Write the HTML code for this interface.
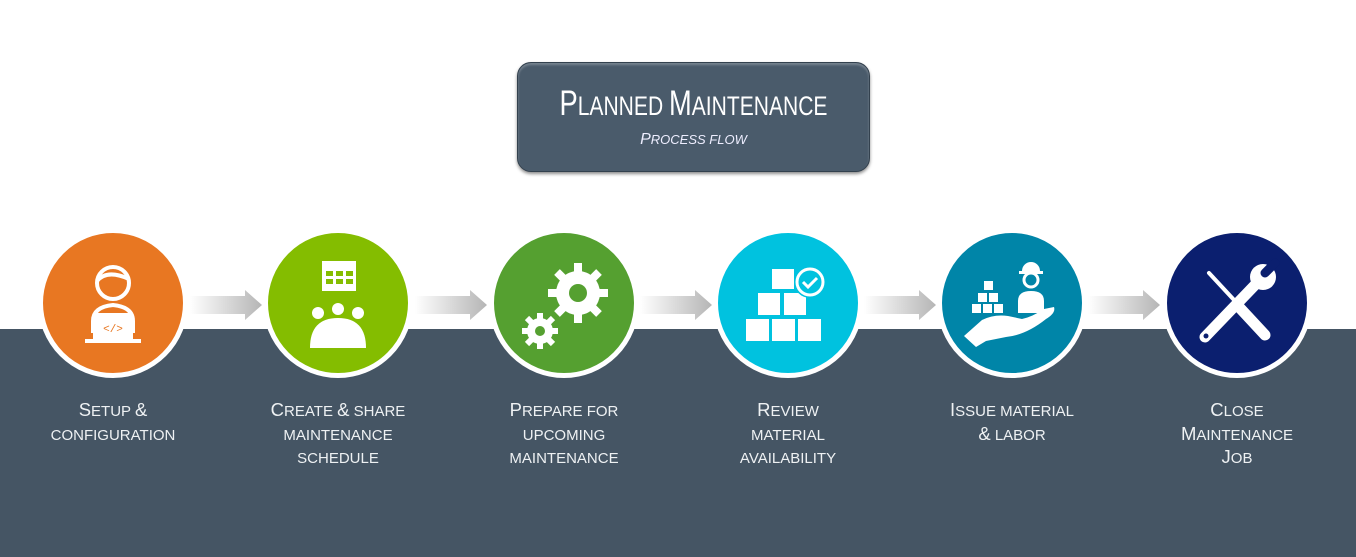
<!DOCTYPE html>
<html><head><meta charset="utf-8"><style>
body{margin:0;width:1356px;height:557px;position:relative;background:#fff;overflow:hidden;font-family:"Liberation Sans",sans-serif}
.band{position:absolute;left:0;top:329px;width:1356px;height:228px;background:#455564}
.title{position:absolute;left:517px;top:62px;width:353px;height:110px;background:#4a5b6b;border-radius:14px;border:1px solid #33414e;box-shadow:0 2px 3px rgba(0,0,0,.45), inset 0 2px 2px rgba(255,255,255,.25);box-sizing:border-box;color:#fff;text-align:center}
.title .t{font-family:"Liberation Sans Narrow","Liberation Sans",sans-serif;text-transform:uppercase;font-size:27px;margin-top:21px;white-space:nowrap;transform:scaleX(.78)}
.title .t b{font-weight:normal;font-size:35px}
.title .s{font-style:italic;text-transform:uppercase;font-size:13px;margin-top:7px;color:#eef}
.title .s b{font-weight:normal;font-size:16px}
.c{position:absolute;width:140px;height:140px;border-radius:50%;border:5px solid #fff;top:228px}
.c svg{position:absolute;left:0;top:0}
.lab{position:absolute;top:400px;width:200px;text-align:center;color:#eef1f3;text-transform:uppercase;font-size:15px;line-height:23.5px}
.lab b{font-weight:normal;font-size:18.5px;line-height:1}
.arr{position:absolute;top:290px}
</style></head><body>
<div class="band"></div>
<div class="title"><div class="t"><b>P</b>lanned <b>M</b>aintenance</div><div class="s"><b>P</b>rocess flow</div></div>

<svg class="arr" style="left:0" width="1356" height="30">
<defs><linearGradient id="g" x1="0" x2="1"><stop offset="0" stop-color="#fff"/><stop offset="1" stop-color="#b5b5b5"/></linearGradient></defs>
<g fill="url(#g)">
<path d="M190 6H245V0L262 15L245 30V24H190Z"/>
<path d="M415 6H470V0L487 15L470 30V24H415Z"/>
<path d="M640 6H695V0L712 15L695 30V24H640Z"/>
<path d="M864 6H919V0L936 15L919 30V24H864Z"/>
<path d="M1088 6H1143V0L1160 15L1143 30V24H1088Z"/>
</g></svg>

<div class="c" style="left:38px;background:#e87722"><svg width="140" height="140" fill="none" stroke="#fff" stroke-width="4">
<circle cx="70" cy="50" r="16"/><path d="M54 48q10-12 32-2"/><path d="M50 100v-12q0-14 20-16q20 2 20 16v12"/><rect x="50" y="80" width="40" height="26" fill="#fff" stroke="none"/><path d="M42 108h56" /><text x="70" y="99" fill="#e87722" stroke="none" font-size="11" text-anchor="middle" font-family="Liberation Mono">&lt;/&gt;</text></svg></div>
<div class="c" style="left:263px;background:#84bd00"><svg width="140" height="140" fill="#fff">
<rect x="54" y="28" width="34" height="30"/><g fill="#84bd00"><rect x="58" y="38" width="7" height="5"/><rect x="68" y="38" width="7" height="5"/><rect x="78" y="38" width="7" height="5"/><rect x="58" y="46" width="7" height="5"/><rect x="68" y="46" width="7" height="5"/><rect x="78" y="46" width="7" height="5"/></g>
<circle cx="50" cy="80" r="6"/><circle cx="70" cy="76" r="6"/><circle cx="90" cy="80" r="6"/><path d="M42 115q0-30 28-30q28 0 28 30z"/></svg></div>
<div class="c" style="left:489px;background:#55a030"><svg width="140" height="140" fill="#fff">
<circle cx="84" cy="60" r="22"/><g stroke="#fff" stroke-width="8"><path d="M84 30v60M54 60h60M63 39l42 42M105 39l-42 42"/></g><circle cx="84" cy="60" r="9" fill="#55a030"/>
<circle cx="46" cy="98" r="13"/><g stroke="#fff" stroke-width="6"><path d="M46 80v36M28 98h36M33 85l26 26M59 85l-26 26"/></g><circle cx="46" cy="98" r="5" fill="#55a030"/></svg></div>
<div class="c" style="left:713px;background:#00c2df"><svg width="140" height="140" fill="#fff">
<rect x="54" y="36" width="22" height="20"/><rect x="40" y="60" width="22" height="22"/><rect x="66" y="60" width="22" height="22"/><rect x="28" y="86" width="23" height="22"/><rect x="54" y="86" width="23" height="22"/><rect x="80" y="86" width="23" height="22"/>
<circle cx="92" cy="49" r="16" fill="#00c2df" /><circle cx="92" cy="49" r="13" fill="none" stroke="#fff" stroke-width="3"/><path d="M85 49l5 5l9-9" fill="none" stroke="#fff" stroke-width="3"/></svg></div>
<div class="c" style="left:937px;background:#0085a8"><svg width="140" height="140" fill="#fff">
<rect x="42" y="48" width="9" height="9"/><rect x="36" y="60" width="9" height="9"/><rect x="47" y="60" width="9" height="9"/><rect x="30" y="71" width="9" height="9"/><rect x="41" y="71" width="9" height="9"/><rect x="52" y="71" width="9" height="9"/>
<path d="M80 38a9 9 0 0 1 18 0h3v3h-24v-3z"/><circle cx="89" cy="47" r="7" fill="none" stroke="#fff" stroke-width="3"/><path d="M76 80v-12q0-10 13-10q13 0 13 10v12z"/>
<path d="M22 103l18-16q12-6 26-4l14 3q10-2 22-10l10-2q2 6-8 12q-20 16-40 18l-20 4l-10 6z"/></svg></div>
<div class="c" style="left:1162px;background:#0b1f6f"><svg width="140" height="140" stroke="#fff" stroke-linecap="round">
<path d="M42 40l26 28" stroke-width="4"/><path d="M72 74l26 28" stroke-width="11"/>
<path d="M38 104l50-52" stroke-width="11"/><circle cx="96" cy="44" r="13" fill="#fff" stroke="none"/><path d="M98 40l10-10" stroke="#0b1f6f" stroke-width="9"/><circle cx="39" cy="103" r="2.5" fill="#0b1f6f" stroke="none"/></svg></div>

<div class="lab" style="left:13px"><b>S</b>etup <b>&amp;</b><br>configuration</div>
<div class="lab" style="left:238px"><b>C</b>reate <b>&amp;</b> share<br>maintenance<br>schedule</div>
<div class="lab" style="left:464px"><b>P</b>repare for<br>upcoming<br>maintenance</div>
<div class="lab" style="left:688px"><b>R</b>eview<br>material<br>availability</div>
<div class="lab" style="left:912px"><b>I</b>ssue material<br><b>&amp;</b> labor</div>
<div class="lab" style="left:1137px"><b>C</b>lose<br><b>M</b>aintenance<br><b>J</b>ob</div>
</body></html>
